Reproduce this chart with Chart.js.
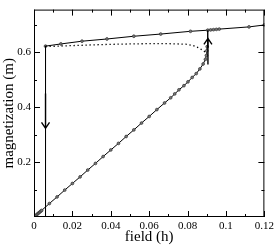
<!DOCTYPE html>
<html>
<head>
<meta charset="utf-8">
<script src="https://cdn.jsdelivr.net/npm/chart.js@4/dist/chart.umd.min.js"></script>
<style>
  html, body { margin: 0; padding: 0; background: #fff; }
  #c { display: block; }
</style>
</head>
<body>
<canvas id="c" width="277" height="245"></canvas>
<script>
// lower branch: field going up from 0 until the jump at h ~ 0.09
const lowerH = [0, 0.0005, 0.001, 0.0015, 0.002, 0.0025, 0.003, 0.0035, 0.004, 0.008, 0.012, 0.016,
  0.020, 0.024, 0.028, 0.032, 0.036, 0.040, 0.044, 0.048, 0.052, 0.056, 0.060, 0.064, 0.068,
  0.0712, 0.0733, 0.0755, 0.0781, 0.0802, 0.0824, 0.0845, 0.0864, 0.0881, 0.0893, 0.0898, 0.0900, 0.0902];
const lowerM = [0, 0.003, 0.006, 0.009, 0.012, 0.015, 0.018, 0.021, 0.024, 0.049, 0.073, 0.098,
  0.122, 0.146, 0.171, 0.195, 0.220, 0.244, 0.268, 0.293, 0.317, 0.342, 0.366, 0.391, 0.415,
  0.434, 0.448, 0.463, 0.478, 0.492, 0.508, 0.522, 0.539, 0.557, 0.574, 0.588, 0.605, 0.620];

// upper branch (magnetized state)
const upperH = [0.0060, 0.0140, 0.0250, 0.0380, 0.0520, 0.0660, 0.0815, 0.0905, 0.0920, 0.0935,
  0.0950, 0.0965, 0.1120, 0.1200];
const upperM = [0.622, 0.630, 0.640, 0.648, 0.658, 0.666, 0.676, 0.680, 0.681, 0.682,
  0.683, 0.684, 0.692, 0.699];

// unstable branch (dotted)
const unstableH = [0.0060, 0.0090, 0.0200, 0.0370, 0.0500, 0.0600, 0.0700, 0.0790, 0.0830, 0.0860, 0.0886, 0.0898];
const unstableM = [0.622, 0.621, 0.624, 0.628, 0.630, 0.631, 0.631, 0.629, 0.624, 0.615, 0.604, 0.592];

// drop back to zero and jump up
const dropH = [0.0060, 0.0060];
const dropM = [0.622, 0];
const jumpH = [0.0902, 0.0905];
const jumpM = [0.620, 0.680];

// arrows: [h, m tail, m tip]
const arrows = [
  [0.0060, 0.45, 0.323],
  [0.0906, 0.555, 0.650],
];

// ticks
const xTicks = [0, 0.02, 0.04, 0.06, 0.08, 0.1, 0.12];
const xTickLabels = ["0", "0.02", "0.04", "0.06", "0.08", "0.1", "0.12"];
const xMinor = [0.01, 0.03, 0.05, 0.07, 0.09, 0.11];
const yTicks = [0.2, 0.4, 0.6];
const yTickLabels = ["0.2", "0.4", "0.6"];
const yMinor = [0.1, 0.3, 0.5, 0.7];

const serif = "'Liberation Serif', 'DejaVu Serif', serif";
const pts = (hs, ms) => hs.map((h, i) => ({ x: h, y: ms[i] }));

// inward ticks on all four sides + frame
const frameTicks = {
  id: "frameTicks",
  afterDraw(chart) {
    const { ctx, chartArea: a, scales } = chart;
    ctx.save();
    ctx.strokeStyle = "#000";
    ctx.lineWidth = 1;
    ctx.strokeRect(a.left + 0.5, a.top + 0.5, a.right - a.left - 1, a.bottom - a.top - 1);
    ctx.beginPath();
    const tx = (vals, len) => vals.forEach((v) => {
      const x = Math.round(scales.x.getPixelForValue(v)) + 0.5;
      ctx.moveTo(x, a.bottom); ctx.lineTo(x, a.bottom - len);
      ctx.moveTo(x, a.top); ctx.lineTo(x, a.top + len);
    });
    const ty = (vals, len) => vals.forEach((v) => {
      const y = Math.round(scales.y.getPixelForValue(v)) + 0.5;
      ctx.moveTo(a.left, y); ctx.lineTo(a.left + len, y);
      ctx.moveTo(a.right, y); ctx.lineTo(a.right - len, y);
    });
    tx(xTicks, 6); tx(xMinor, 3);
    ty(yTicks, 6); ty(yMinor, 3);
    ctx.stroke();
    ctx.restore();
  },
};

// open arrow heads
const arrowPlugin = {
  id: "arrowPlugin",
  afterDatasetsDraw(chart) {
    const { ctx, scales } = chart;
    ctx.save();
    ctx.strokeStyle = "#000";
    arrows.forEach(([h, m0, m1]) => {
      const x = scales.x.getPixelForValue(h);
      const y0 = scales.y.getPixelForValue(m0);
      const y1 = scales.y.getPixelForValue(m1);
      const dir = y1 < y0 ? 1 : -1;
      ctx.lineWidth = 1.4;
      ctx.beginPath();
      ctx.moveTo(x, y0); ctx.lineTo(x, y1);
      ctx.moveTo(x - 4, y1 + dir * 6); ctx.lineTo(x, y1); ctx.lineTo(x + 4, y1 + dir * 6);
      ctx.stroke();
    });
    ctx.restore();
  },
};

const lineStyle = { showLine: true, borderColor: "#000", borderWidth: 1, pointRadius: 0, fill: false };
const markStyle = { pointRadius: 1.4, pointBackgroundColor: "#777", pointBorderColor: "#333", pointBorderWidth: 0.7 };

new Chart(document.getElementById("c"), {
  type: "scatter",
  data: {
    datasets: [
      { ...lineStyle, data: pts(unstableH, unstableM), borderDash: [1.3, 2.7], borderWidth: 1.3 },
      { ...lineStyle, data: pts(dropH, dropM) },
      { ...lineStyle, data: pts(jumpH, jumpM), borderWidth: 1.4 },
      { ...lineStyle, ...markStyle, data: pts(upperH, upperM) },
      { ...lineStyle, ...markStyle, data: pts(lowerH, lowerM) },
    ],
  },
  options: {
    responsive: false,
    animation: false,
    layout: { padding: { top: 2, right: 11, left: 0, bottom: 0 } },
    plugins: { legend: { display: false }, tooltip: { enabled: false } },
    scales: {
      x: {
        type: "linear",
        min: 0,
        max: 0.12,
        grid: { display: false, drawTicks: false },
        border: { display: false },
        afterBuildTicks: (s) => { s.ticks = xTicks.map((v) => ({ value: v })); },
        afterFit: (s) => { s.height = 28; },
        ticks: {
          padding: 3,
          color: "#000",
          font: { family: serif, size: 11 },
          callback: (v, i) => xTickLabels[i],
        },
        title: {
          display: true,
          text: "field (h)",
          color: "#000",
          font: { family: serif, size: 15, lineHeight: 1 },
          padding: { top: 0, bottom: 0 },
        },
      },
      y: {
        type: "linear",
        min: 0,
        max: 0.755,
        grid: { display: false, drawTicks: false },
        border: { display: false },
        afterBuildTicks: (s) => { s.ticks = yTicks.map((v) => ({ value: v })); },
        afterFit: (s) => { s.width = 34; },
        ticks: {
          padding: 3,
          color: "#000",
          font: { family: serif, size: 11 },
          callback: (v, i) => yTickLabels[i],
        },
        title: {
          display: true,
          text: "magnetization (m)",
          color: "#000",
          font: { family: serif, size: 15, lineHeight: 1 },
          padding: { top: 1.5, bottom: 0 },
        },
      },
    },
  },
  plugins: [frameTicks, arrowPlugin],
});
</script>
</body>
</html>
